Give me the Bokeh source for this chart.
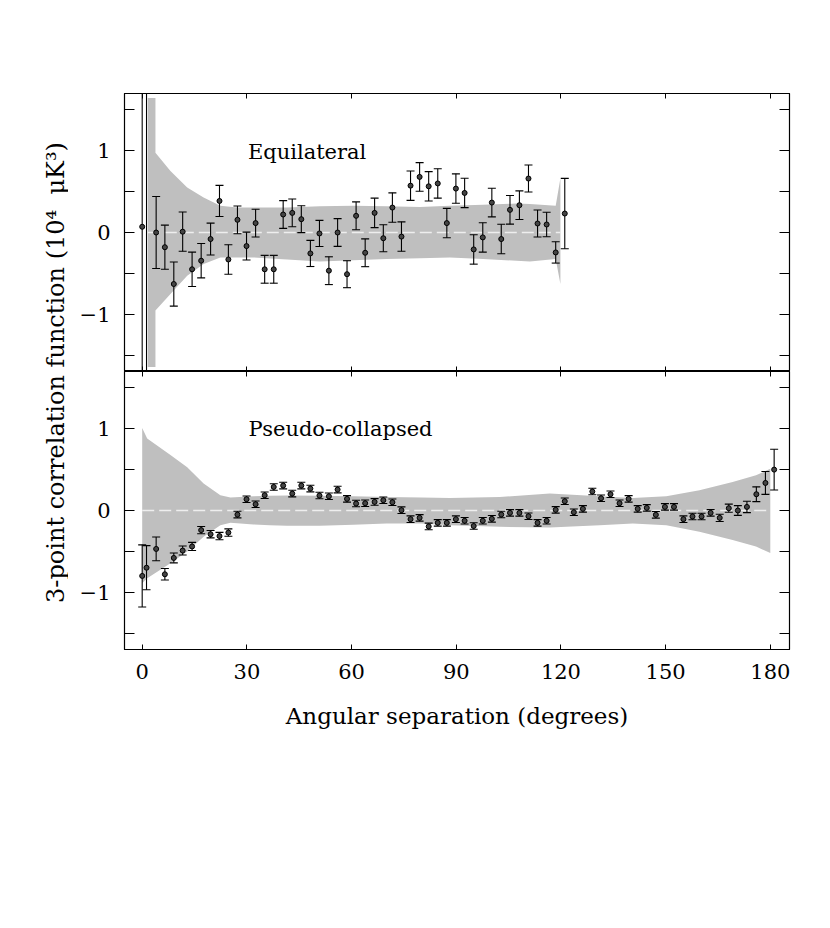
import numpy as np
from bokeh.plotting import figure
from bokeh.layouts import row, column
from bokeh.models import (Range1d, LinearAxis, FixedTicker, Label, ColumnDataSource)
from bokeh.embed import file_html
from bokeh.resources import INLINE

# ---------------- data ----------------
eq_x = [0, 1.24, 4.0, 6.5, 9.06, 11.6, 14.3, 16.9, 19.6, 22.15, 24.7, 27.3, 29.9, 32.5,
        35.1, 37.7, 40.4, 43.0, 45.6, 48.2, 50.8, 53.5, 56.0, 58.7, 61.3, 63.9, 66.6,
        69.1, 71.7, 74.3, 76.9, 79.5, 82.1, 84.7, 87.3, 89.9, 92.4, 95.0, 97.6, 100.2,
        102.9, 105.4, 108.1, 110.7, 113.3, 115.9, 118.5, 121.1]
eq_y = [0.07, -2.6, 0.0, -0.18, -0.63, 0.01, -0.45, -0.345, -0.08, 0.386, -0.33, 0.155,
        -0.166, 0.115, -0.45, -0.45, 0.22, 0.24, 0.163, -0.256, -0.012, -0.467, 0.0,
        -0.51, 0.204, -0.248, 0.24, -0.07, 0.305, -0.05, 0.573, 0.68, 0.565, 0.60,
        0.115, 0.537, 0.484, -0.207, -0.06, 0.366, -0.08, 0.277, 0.334, 0.66, 0.11,
        0.098, -0.244, 0.232]
eq_err = [5, 5, 0.44, 0.27, 0.27, 0.24, 0.21, 0.21, 0.195, 0.19, 0.18, 0.17, 0.17, 0.17,
          0.17, 0.17, 0.17, 0.17, 0.165, 0.16, 0.16, 0.17, 0.17, 0.165, 0.17, 0.17, 0.18,
          0.165, 0.18, 0.18, 0.18, 0.175, 0.18, 0.18, 0.18, 0.18, 0.18, 0.18, 0.18, 0.175,
          0.18, 0.175, 0.175, 0.165, 0.165, 0.15, 0.13, 0.43]

eq_band_x = [1.6, 3.8, 3.8, 8.1, 12.9, 17.6, 22.4, 27.2, 31.9, 41.5, 50.9, 60.5, 70.0,
             79.6, 88.2, 97.7, 107.3, 111.1, 118.5, 119.85]
eq_band_hi = [1.646, 1.646, 0.976, 0.752, 0.549, 0.427, 0.326, 0.305, 0.305, 0.305, 0.32,
              0.326, 0.32, 0.313, 0.326, 0.338, 0.354, 0.35, 0.326, 0.663]
eq_band_lo = [-1.646, -1.646, -0.955, -0.752, -0.528, -0.386, -0.305, -0.305, -0.305,
              -0.33, -0.354, -0.34, -0.325, -0.315, -0.305, -0.325, -0.345, -0.354,
              -0.325, -0.63]

pc_x = [0, 1.24, 4.0, 6.5, 9.06, 11.6, 14.3, 16.9, 19.6, 22.15, 24.7, 27.3, 29.9, 32.5,
        35.1, 37.7, 40.4, 43.0, 45.6, 48.2, 50.8, 53.5, 56.0, 58.7, 61.3, 63.9, 66.6,
        69.1, 71.7, 74.3, 76.9, 79.5, 82.1, 84.7, 87.3, 89.9, 92.4, 95.0, 97.6, 100.2,
        102.9, 105.4, 108.1, 110.7, 113.3, 115.9, 118.5, 121.1, 123.7, 126.3, 129.0,
        131.5, 134.2, 136.8, 139.4, 142.0, 144.6, 147.2, 149.8, 152.4, 155.1, 157.7,
        160.3, 162.9, 165.5, 168.1, 170.7, 173.3, 176.0, 178.6, 181.1]
pc_y = [-0.80, -0.70, -0.47, -0.78, -0.58, -0.49, -0.44, -0.24, -0.29, -0.313, -0.27,
        -0.05, 0.138, 0.077, 0.187, 0.288, 0.305, 0.207, 0.305, 0.268, 0.183, 0.174,
        0.256, 0.142, 0.085, 0.089, 0.105, 0.126, 0.101, 0.004, -0.106, -0.09, -0.195,
        -0.151, -0.151, -0.106, -0.126, -0.19, -0.126, -0.102, -0.049, -0.029, -0.029,
        -0.07, -0.151, -0.126, 0.008, 0.113, -0.021, 0.02, 0.232, 0.15, 0.199, 0.089,
        0.142, 0.02, 0.032, -0.053, 0.044, 0.044, -0.106, -0.073, -0.073, -0.029, -0.09,
        0.028, 0.0, 0.044, 0.199, 0.337, 0.50]
pc_err = [0.38, 0.27, 0.145, 0.07, 0.06, 0.055, 0.05, 0.045, 0.045, 0.045, 0.045,
          0.04, 0.04, 0.04, 0.04, 0.04, 0.04, 0.04, 0.04, 0.04, 0.04, 0.04, 0.04, 0.04,
          0.04, 0.04, 0.04, 0.04, 0.04, 0.04, 0.04, 0.04, 0.04, 0.04, 0.04, 0.04, 0.04,
          0.04, 0.04, 0.04, 0.04, 0.04, 0.04, 0.04, 0.04, 0.04, 0.04, 0.04, 0.04, 0.04,
          0.04, 0.04, 0.04, 0.04, 0.04, 0.04, 0.04, 0.04, 0.04, 0.04, 0.04, 0.04, 0.04,
          0.04, 0.045, 0.05, 0.06, 0.07, 0.09, 0.14, 0.25]

pc_band_x = [0, 1.43, 8.1, 12.9, 17.6, 22.4, 25.3, 31.9, 36.6, 41.5, 50.9, 60.5, 70.0,
             80.0, 88.2, 102.5, 116.8, 131.1, 140.6, 150.2, 159.7, 169.2, 175.9, 180.0]
pc_band_hi = [1.01, 0.88, 0.68, 0.53, 0.33, 0.187, 0.158, 0.174, 0.18, 0.183, 0.18,
              0.174, 0.165, 0.158, 0.154, 0.166, 0.207, 0.174, 0.154, 0.174, 0.248, 0.35,
              0.43, 0.51]
pc_band_lo = [-0.89, -0.83, -0.646, -0.50, -0.32, -0.18, -0.15, -0.17, -0.18, -0.185,
              -0.188, -0.175, -0.16, -0.16, -0.18, -0.20, -0.207, -0.18, -0.16, -0.18,
              -0.26, -0.36, -0.44, -0.52]

x_ticks = [0, 30, 60, 90, 120, 150, 180]
y_ticks = [-1, 0, 1]
y_minor = [-1.5, -0.5, 0.5, 1.5]
y_tick_labels = {-1: "\u22121", 0: "0", 1: "1"}

FONT = "DejaVu Serif"
BAND = "#bfbfbf"

xr = Range1d(-5.07, 185.5)


def hide_labels(ax):
    ax.major_label_text_font_size = "1px"
    ax.major_label_text_color = None
    ax.major_label_standoff = 0


def make_panel(height, top_border, bottom_border, show_x_labels):
    p = figure(width=740, height=height, x_range=xr, y_range=Range1d(-1.7, 1.7),
               output_backend="svg", toolbar_location=None,
               x_axis_location=None, y_axis_location=None,
               min_border_left=56, min_border_right=19,
               min_border_top=top_border, min_border_bottom=bottom_border)
    p.grid.visible = False
    p.outline_line_color = "black"
    p.outline_line_width = 1.2
    p.background_fill_color = "white"
    p.border_fill_color = "white"

    def yaxis(labels):
        ax = LinearAxis(ticker=FixedTicker(ticks=y_ticks, minor_ticks=y_minor))
        ax.major_tick_in = 10
        ax.major_tick_out = 0
        ax.minor_tick_in = 10
        ax.minor_tick_out = 0
        ax.axis_line_color = "black"
        ax.major_tick_line_color = "black"
        ax.minor_tick_line_color = "black"
        if labels:
            ax.major_label_overrides = y_tick_labels
            ax.major_label_text_font = FONT
            ax.major_label_text_font_size = "21px"
            ax.major_label_text_color = "black"
            ax.major_label_standoff = 14
        else:
            hide_labels(ax)
        return ax

    def xaxis(labels):
        ax = LinearAxis(ticker=FixedTicker(ticks=x_ticks, minor_ticks=[]))
        ax.major_tick_in = 5
        ax.major_tick_out = 0
        ax.axis_line_color = "black"
        ax.major_tick_line_color = "black"
        if labels:
            ax.major_label_text_font = FONT
            ax.major_label_text_font_size = "21px"
            ax.major_label_text_color = "black"
            ax.major_label_standoff = 14
            ax.axis_label = "Angular separation (degrees)"
            ax.axis_label_text_font = FONT
            ax.axis_label_text_font_size = "23px"
            ax.axis_label_text_font_style = "normal"
            ax.axis_label_text_color = "black"
            ax.axis_label_standoff = 21
        else:
            hide_labels(ax)
        return ax

    p.add_layout(yaxis(True), "left")
    p.add_layout(yaxis(False), "right")
    p.add_layout(xaxis(False), "above")
    p.add_layout(xaxis(show_x_labels), "below")
    return p


def draw(p, x, y, err, bx, blo, bhi, marker_fill):
    p.varea(x=bx, y1=blo, y2=bhi, fill_color=BAND, fill_alpha=1.0)
    p.line(x=bx, y=[0.0] * len(bx), line_color="#eeeeee", line_width=1.5,
           line_dash="12 5")
    ya = np.array(y, dtype=float)
    ea = np.array(err, dtype=float)
    src = ColumnDataSource(dict(x=x, y=ya, lo=ya - ea, hi=ya + ea))
    p.segment(x0="x", y0="lo", x1="x", y1="hi", source=src, line_color="black",
              line_width=1.1)
    p.scatter(x="x", y="hi", source=src, marker="dash", size=8, line_color="black",
              line_width=1.1)
    p.scatter(x="x", y="lo", source=src, marker="dash", size=8, line_color="black",
              line_width=1.1)
    p.scatter(x="x", y="y", source=src, marker="circle", size=5,
              fill_color=marker_fill, line_color="black", line_width=1)


top = make_panel(371, 93, 0, False)
draw(top, eq_x, eq_y, eq_err, eq_band_x, eq_band_lo, eq_band_hi, "#444444")
top.add_layout(Label(x=30.3, y=0.99, text="Equilateral", text_font=FONT,
                     text_font_size="21px", text_color="black",
                     text_baseline="alphabetic", text_align="left"))

bottom = make_panel(378, 0, 100, True)
draw(bottom, pc_x, pc_y, pc_err, pc_band_x, pc_band_lo, pc_band_hi, "#444444")
bottom.add_layout(Label(x=30.5, y=1.0, text="Pseudo-collapsed", text_font=FONT,
                        text_font_size="21px", text_color="black",
                        text_baseline="alphabetic", text_align="left"))

# left strip carrying the shared y-axis title
LAB_W, LAB_H = 68, 749
lab = figure(width=LAB_W, height=LAB_H, x_range=Range1d(0, LAB_W),
             y_range=Range1d(0, LAB_H),
             output_backend="svg", toolbar_location=None,
             x_axis_location=None, y_axis_location=None,
             min_border=0)
lab.grid.visible = False
lab.outline_line_color = None
lab.add_layout(Label(x=55, y=LAB_H - 372,
                     text="3-point correlation function (10\u2074\u00a0 \u03bcK\u00b3)",
                     angle=np.pi / 2, text_font=FONT, text_font_size="24px",
                     text_color="black", text_align="center", text_baseline="middle"))

layout = row(lab, column(top, bottom))

with open("out.html", "w") as f:
    f.write(file_html(layout, INLINE))
